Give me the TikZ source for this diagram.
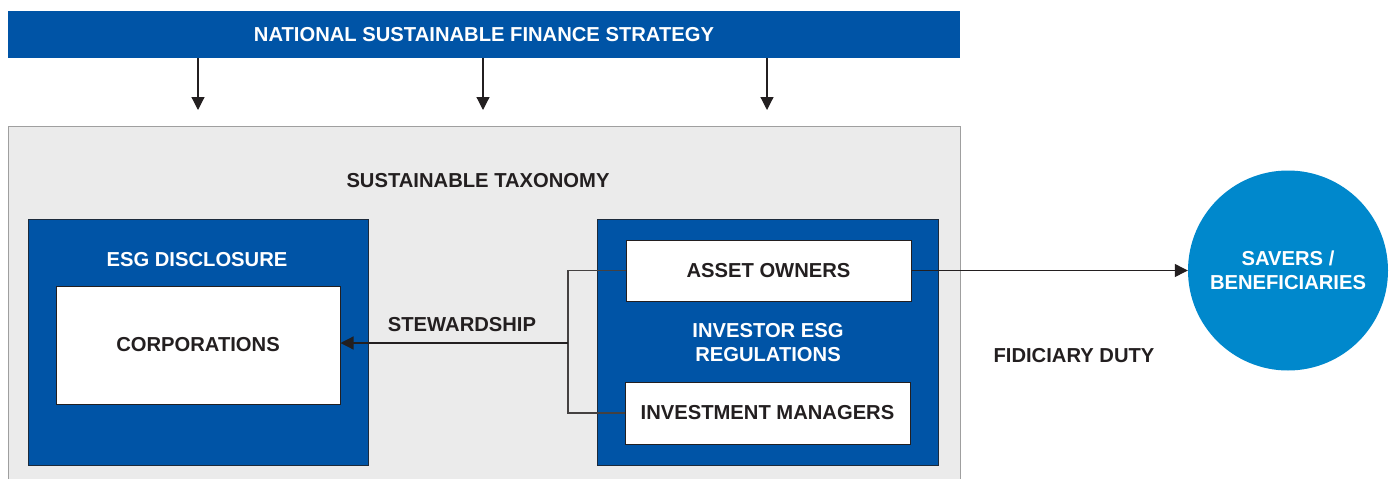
\documentclass[tikz,border=0pt]{standalone}
\usepackage{fontspec}
\setmainfont{Liberation Sans}
\usetikzlibrary{arrows.meta}
\definecolor{darkblue}{HTML}{0054A6}
\definecolor{skyblue}{HTML}{0088CC}
\definecolor{panelgrey}{HTML}{EBEBEB}
\definecolor{inkblack}{HTML}{231F20}

\begin{document}
\begin{tikzpicture}[
    x=1pt, y=-1pt,
    every node/.style={font=\bfseries\fontsize{20.2}{24}\selectfont, inner sep=0pt},
    bluebox/.style={draw=inkblack!80!darkblue, line width=0.8pt, fill=darkblue},
    whitebox/.style={draw=inkblack, line width=1pt, fill=white, text=inkblack},
    whitetext/.style={text=white, align=center},
    darktext/.style={text=inkblack, align=center},
    arrow/.style={draw=inkblack, line width=1.2pt, -{Triangle[length=13pt,width=13pt]}},
    link/.style={draw=inkblack!85, line width=1.2pt}
]
\useasboundingbox (0,0) rectangle (1395,479);

% strategy bar
\node[fill=darkblue, minimum width=952pt, minimum height=47pt, whitetext] (strategy) at (484,34.5) {NATIONAL SUSTAINABLE FINANCE STRATEGY};
\coordinate (tipa) at (198,110);
\coordinate (tipb) at (483,110);
\coordinate (tipc) at (767,110);
\foreach \t in {tipa,tipb,tipc}
    \draw[arrow] (strategy.south -| \t) -- (\t);

% taxonomy panel
\node[draw=gray!75, line width=1pt, fill=panelgrey, minimum width=952pt, minimum height=380pt] (panel) at (484,316) {};
\node[darktext] (taxonomy) at (478,181) {SUSTAINABLE TAXONOMY};

% disclosure side
\node[bluebox, minimum width=340pt, minimum height=246pt] (disclosure) at (198,342) {};
\node[whitetext] (disclosurelabel) at (197,260) {ESG DISCLOSURE};
\node[whitebox, minimum width=284pt, minimum height=118pt] (corp) at (198,345) {CORPORATIONS};

% investor side
\node[bluebox, minimum width=341pt, minimum height=246pt] (investor) at (767.5,342) {};
\node[whitebox, minimum width=285pt, minimum height=61pt] (owners) at (768.5,270.5) {ASSET OWNERS};
\node[whitetext] (regulations) at (768,343) {INVESTOR ESG\\REGULATIONS};
\node[whitebox, minimum width=285pt, minimum height=62pt] (managers) at (767.5,413) {INVESTMENT MANAGERS};

% stewardship
\coordinate (fork) at (568,343);
\draw[link] (owners.west) -| (fork) |- (managers.west);
\draw[arrow] (fork) -- (fork -| corp.east);
\node[darktext] (stewardship) at (462,325) {STEWARDSHIP};

% fiduciary duty
\node[circle, fill=skyblue, minimum size=200pt, whitetext] (savers) at (1288,270.5) {SAVERS /\\BENEFICIARIES};
\draw[arrow] (owners.east) -- (savers.west);
\node[darktext] (duty) at (1074,356) {FIDICIARY DUTY};
\end{tikzpicture}
\end{document}
